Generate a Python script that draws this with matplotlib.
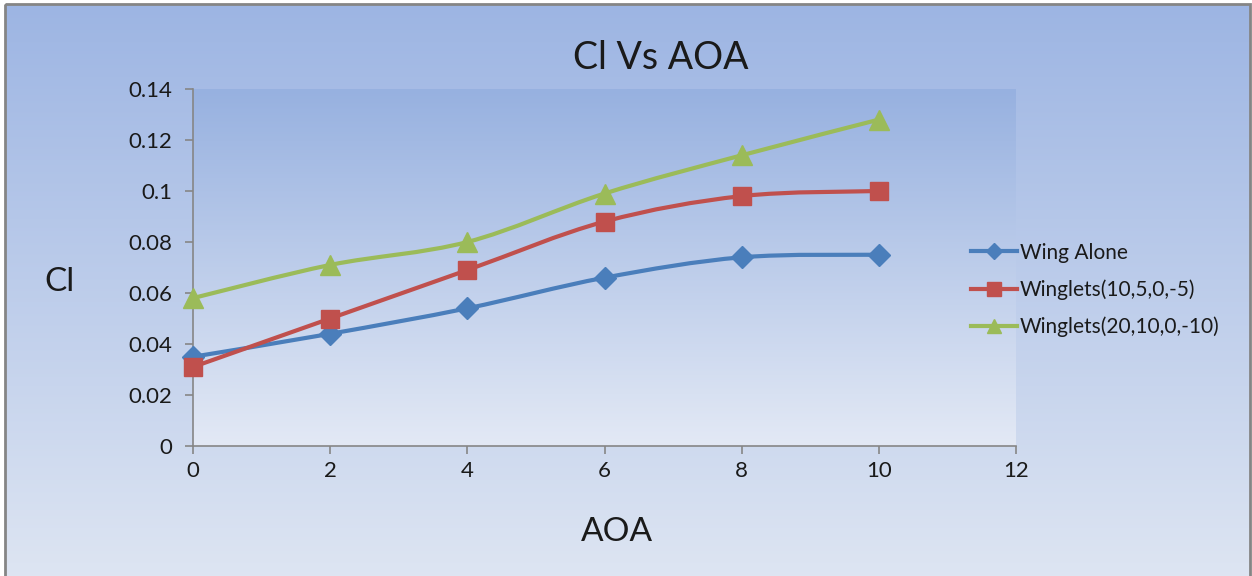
import matplotlib
matplotlib.use('Agg')
import matplotlib.pyplot as plt
import numpy as np
from matplotlib.path import Path
from matplotlib.patches import PathPatch, Rectangle
from matplotlib.lines import Line2D

plt.rcParams['font.family'] = ['Lato', 'DejaVu Sans']

aoa = [0, 2, 4, 6, 8, 10]
wing_alone = [0.035, 0.044, 0.054, 0.066, 0.074, 0.075]
winglets_10 = [0.031, 0.050, 0.069, 0.088, 0.098, 0.100]
winglets_20 = [0.058, 0.071, 0.080, 0.099, 0.114, 0.128]

labels = ['Wing Alone', 'Winglets(10,5,0,-5)', 'Winglets(20,10,0,-10)']
colors = ['#4a7ebb', '#c0504d', '#9bbb59']
markers = ['D', 's', '^']
msizes = [11, 13, 14]


def smooth_path(x, y):
    # excel style smoothed line as bezier segments through the data points
    pts = np.column_stack([x, y]).astype(float)
    n = len(pts)
    verts = [pts[0]]
    codes = [Path.MOVETO]
    for i in range(n - 1):
        p0 = pts[max(i - 1, 0)]
        p1 = pts[i]
        p2 = pts[i + 1]
        p3 = pts[min(i + 2, n - 1)]
        verts += [p1 + (p2 - p0) / 6, p2 - (p3 - p1) / 6, p2]
        codes += [Path.CURVE4] * 3
    return Path(verts, codes)


fig = plt.figure(figsize=(12.52, 5.76), dpi=100)
fig.patch.set_facecolor('white')

# outer chart area with gradient
bg = fig.add_axes([0, 0, 1, 1], zorder=-5)
bg.axis('off')
grad = np.linspace(0, 1, 256)[:, None]
top_c = np.array([157, 181, 227]) / 255
bot_c = np.array([224, 231, 243]) / 255
img = top_c[None, None, :] * (1 - grad[:, :, None]) + bot_c[None, None, :] * grad[:, :, None]
bg.imshow(img, extent=[6, 1250, 600, 5], aspect='auto')
bg.add_patch(Rectangle((5, 4), 1245, 620, fill=False, ec='#858585', lw=2))
bg.set_xlim(0, 1252)
bg.set_ylim(576, 0)

ax = fig.add_axes([193 / 1252, 1 - 446 / 576, (1016 - 193) / 1252, (446 - 89) / 576])
ax.set_facecolor('none')
top_p = np.array([151, 177, 224]) / 255
bot_p = np.array([227, 233, 245]) / 255
img2 = top_p[None, None, :] * (1 - grad[:, :, None]) + bot_p[None, None, :] * grad[:, :, None]
ax.imshow(img2, extent=[0, 12, 0, 0.14], aspect='auto', zorder=0)

series = [wing_alone, winglets_10, winglets_20]
for vals, col, mk, ms in zip(series, colors, markers, msizes):
    ax.add_patch(PathPatch(smooth_path(aoa, vals), fill=False, ec=col, lw=3, zorder=3,
                           capstyle='round', joinstyle='round'))
    ax.plot(aoa, vals, ls='none', marker=mk, ms=ms, color=col, zorder=4, clip_on=False)

ax.set_xlim(0, 12)
ax.set_ylim(0, 0.14)
ax.set_xticks(range(0, 13, 2))
ax.set_yticks(np.arange(0, 0.141, 0.02))
ax.set_yticklabels(['0', '0.02', '0.04', '0.06', '0.08', '0.1', '0.12', '0.14'])
for s in ['top', 'right']:
    ax.spines[s].set_visible(False)
for s in ['left', 'bottom']:
    ax.spines[s].set_color('#868686')
    ax.spines[s].set_linewidth(1.2)
ax.tick_params(colors='#868686', labelcolor='#1a1a1a', labelsize=16, length=6, width=1.2)
ax.tick_params(axis='y', pad=9)
ax.tick_params(axis='x', pad=5)

fig.text(661 / 1252, 1 - 58 / 576, 'Cl Vs AOA', fontsize=27, color='#1a1a1a', ha='center', va='center')
fig.text(617 / 1252, 1 - 532 / 576, 'AOA', fontsize=24, color='#1a1a1a', ha='center', va='center')
fig.text(60 / 1252, 1 - 282 / 576, 'Cl', fontsize=24, color='#1a1a1a', ha='center', va='center')

handles = [Line2D([], [], color=c, lw=3, marker=m, ms=s * 0.75) for c, m, s in zip(colors, markers, msizes)]
fig.legend(handles, labels, loc='center left', bbox_to_anchor=(952 / 1252, 1 - 290 / 576),
           frameon=False, fontsize=15, handlelength=2.2, handletextpad=0.15, labelspacing=0.8,
           labelcolor='#1a1a1a')

fig.savefig('out.png', dpi=100)
